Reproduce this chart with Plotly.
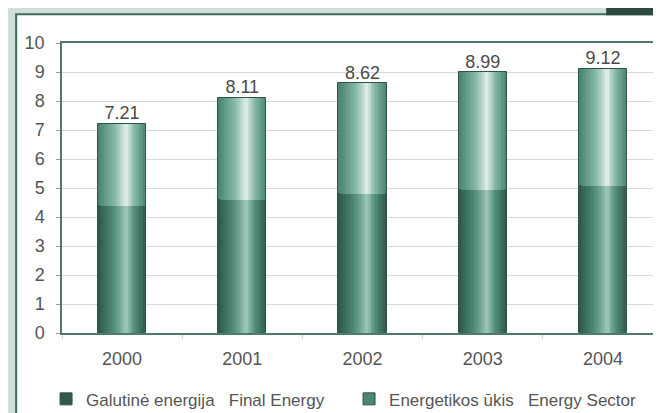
import plotly.graph_objects as go

years = ["2000", "2001", "2002", "2003", "2004"]
final_energy = [4.39, 4.59, 4.80, 4.94, 5.06]
totals = [7.21, 8.11, 8.62, 8.99, 9.12]
energy_sector = [round(t - f, 2) for t, f in zip(totals, final_energy)]
total_labels = ["7.21", "8.11", "8.62", "8.99", "9.12"]
y_ticks = list(range(0, 11))

name_final = "Galutinė energija\u00a0\u00a0\u00a0Final Energy"
name_sector = "Energetikos ūkis\u00a0\u00a0\u00a0Energy Sector"

FONT = "Liberation Sans, Arial, sans-serif"
FS = 18
FS_LEG = 17


def hex2rgb(h):
    h = h.lstrip("#")
    return tuple(int(h[i:i + 2], 16) for i in (0, 2, 4))


def lerp(c1, c2, t):
    a, b = hex2rgb(c1), hex2rgb(c2)
    return "rgb(%d,%d,%d)" % tuple(round(a[i] + (b[i] - a[i]) * t) for i in range(3))


fig = go.Figure()

BAR_W = 0.40
HL = 0.035
N = 14
left0, right0 = -BAR_W / 2, BAR_W / 2


def add_segment(values, base, edge, mid, centre, name, group):
    for k in range(N):
        t = k / N
        lft = left0 + (HL - left0) * t
        rgt = right0 - (right0 - HL) * t
        w = rgt - lft
        if t < 0.5:
            col = lerp(edge, mid, t / 0.5)
        else:
            col = lerp(mid, centre, ((t - 0.5) / 0.5) ** 1.2)
        fig.add_trace(go.Bar(
            x=years, y=values, base=base,
            width=w, offset=lft,
            marker=dict(color=col,
                        line=dict(color="#2f5446", width=1 if k == 0 else 0)),
            name=name, legendgroup=group, showlegend=(k == 0),
            hoverinfo="skip",
        ))


add_segment(final_energy, [0] * len(years), "#2f5a4a", "#4f8a76", "#a8d0c0",
            name_final, "f")
add_segment(energy_sector, final_energy, "#4a8671", "#7fb3a1", "#eef6f2",
            name_sector, "s")

fig.add_trace(go.Scatter(
    x=years, y=totals, mode="text", text=total_labels,
    textposition="top center",
    textfont=dict(family=FONT, size=FS, color="#4a4a4a"),
    showlegend=False, hoverinfo="skip",
))

L, R, T, B = 54, 4, 35, 85
W, H = 661, 413
pw, ph = W - L - R, H - T - B


def px_x(x):
    return (x - L) / pw


def px_y(y):
    return (H - B - y) / ph


shapes = [
    dict(type="rect", xref="paper", yref="paper", layer="below",
         x0=px_x(8), x1=px_x(680), y0=px_y(410), y1=px_y(6),
         fillcolor="white", line=dict(color="#3d6a5b", width=2)),
    dict(type="rect", xref="paper", yref="paper", layer="below",
         x0=px_x(600), x1=px_x(670), y0=px_y(7), y1=px_y(-5),
         fillcolor="#2e4a40", line=dict(width=0)),
]

fig.update_layout(
    width=W, height=H,
    margin=dict(l=L, r=R, t=T, b=B),
    paper_bgcolor="#d0dfdb",
    plot_bgcolor="white",
    barmode="overlay",
    bargap=0,
    font=dict(family=FONT, size=FS, color="#555555"),
    shapes=shapes,
    showlegend=True,
    legend=dict(orientation="h", x=px_x(38), y=px_y(395), xanchor="left", yanchor="middle",
                bgcolor="rgba(0,0,0,0)", entrywidth=258, entrywidthmode="pixels",
                itemwidth=30, traceorder="normal",
                font=dict(family=FONT, size=FS_LEG, color="#555555")),
)
fig.update_xaxes(
    type="category", showgrid=False, showline=True, linecolor="#4d7a6b", linewidth=1.5,
    mirror=True, ticks="outside", tickson="boundaries", ticklen=4, tickcolor="#d0d0d0",
    ticklabelstandoff=9,
    tickfont=dict(family=FONT, size=FS, color="#555555"),
)
fig.update_yaxes(
    range=[0, 10], tickvals=y_ticks, showgrid=True, gridcolor="#d8d8d8", gridwidth=1,
    showline=True, linecolor="#4d7a6b", linewidth=1.5, mirror=True,
    ticks="outside", ticklen=4, tickcolor="#999999", zeroline=False,
    ticklabelstandoff=8,
    tickfont=dict(family=FONT, size=FS, color="#555555"),
)

fig.write_html("out.html")
